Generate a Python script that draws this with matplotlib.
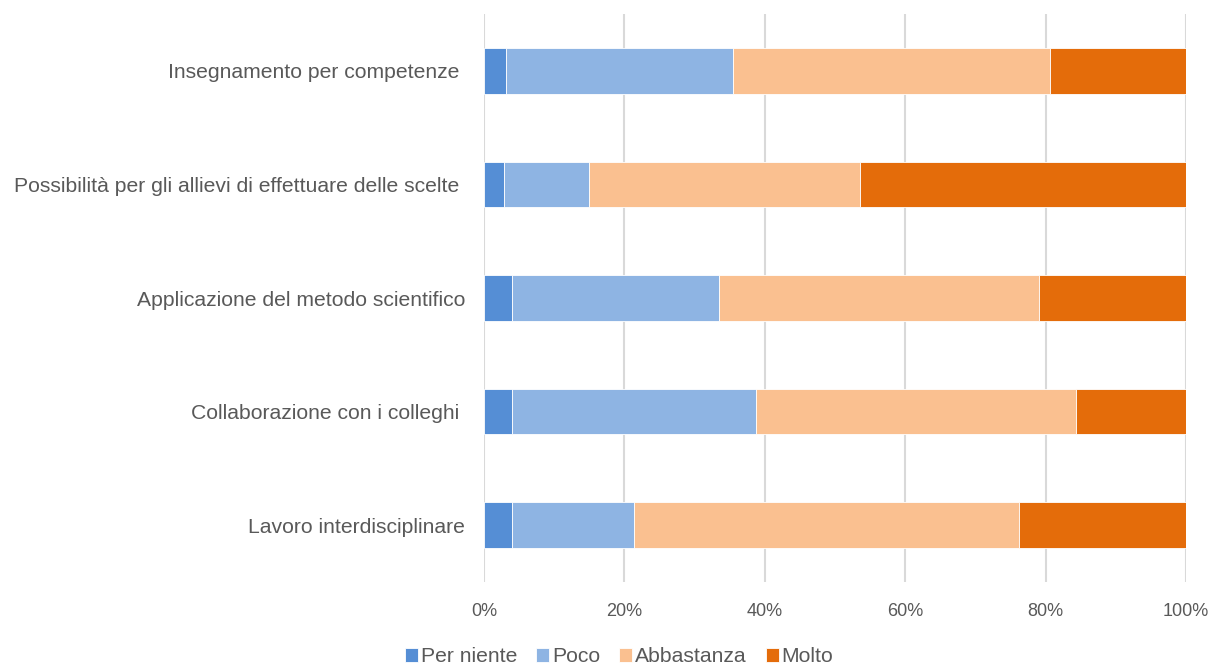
import matplotlib
matplotlib.use("Agg")
import matplotlib.pyplot as plt
import numpy as np

categories = [
    "Insegnamento per competenze ",
    "Possibilità per gli allievi di effettuare delle scelte ",
    "Applicazione del metodo scientifico",
    "Collaborazione con i colleghi ",
    "Lavoro interdisciplinare",
]
per_niente = [3.2, 2.8, 4.0, 4.0, 4.0]
poco = [32.3, 12.1, 29.5, 34.8, 17.4]
abbastanza = [45.1, 38.7, 45.5, 45.5, 54.8]
molto = [19.4, 46.4, 21.0, 15.7, 23.8]
series_names = ["Per niente", "Poco", "Abbastanza", "Molto"]
colors = ["#558ED5", "#8EB4E3", "#FAC090", "#E46C0A"]
xticks = [0, 20, 40, 60, 80, 100]

plt.rcParams['font.family'] = ['Liberation Sans', 'DejaVu Sans']
text_color = "#595959"

fig = plt.figure(figsize=(12.12, 6.66), dpi=100)
ax = fig.add_axes([484 / 1212, 1 - 582 / 666, (1186 - 484) / 1212, (582 - 14) / 666])

y = np.arange(len(categories))
left = np.zeros(len(categories))
for name, vals, c in zip(series_names, [per_niente, poco, abbastanza, molto], colors):
    ax.barh(y, vals, left=left, height=0.4, color=c, label=name,
            edgecolor="white", linewidth=0.6, zorder=3)
    left = left + np.array(vals)

ax.set_ylim(len(categories) - 0.5, -0.5)
ax.set_xlim(0, 100)
ax.set_yticks(y)
ax.set_yticklabels(categories, fontsize=15.2, color=text_color)
ax.set_xticks(xticks)
ax.set_xticklabels([f"{t}%" for t in xticks], fontsize=13, color=text_color)
ax.tick_params(axis="both", length=0)
ax.tick_params(axis="y", pad=13.5)
ax.tick_params(axis="x", pad=15)
ax.grid(axis="x", color="#D9D9D9", linewidth=1.5, zorder=0)
for s in ax.spines.values():
    s.set_visible(False)

leg = fig.legend(loc="center", bbox_to_anchor=(0.511, 1 - 657 / 666), ncol=4, frameon=False,
                 fontsize=15.2, handlelength=0.6, handleheight=0.6, handletextpad=0.15,
                 columnspacing=0.9, labelcolor=text_color)

fig.savefig("out.png", dpi=100)
